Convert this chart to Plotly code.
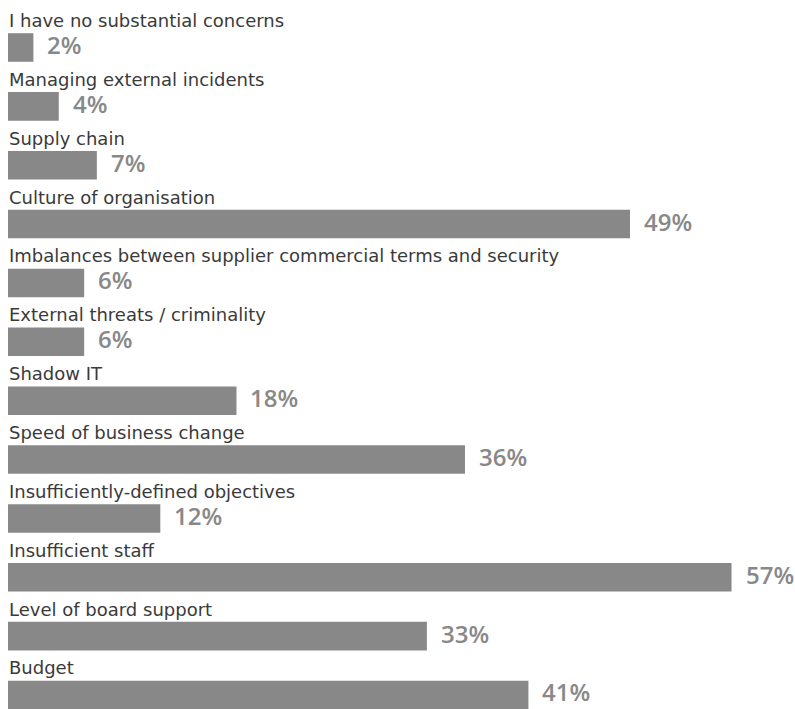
import plotly.graph_objects as go

categories = [
    "I have no substantial concerns",
    "Managing external incidents",
    "Supply chain",
    "Culture of organisation",
    "Imbalances between supplier commercial terms and security",
    "External threats / criminality",
    "Shadow IT",
    "Speed of business change",
    "Insufficiently-defined objectives",
    "Insufficient staff",
    "Level of board support",
    "Budget",
]
values = [2, 4, 7, 49, 6, 6, 18, 36, 12, 57, 33, 41]

positions = list(range(len(categories)))
bar_color = "#888888"

fig = go.Figure(
    go.Bar(
        x=values,
        y=positions,
        orientation="h",
        marker=dict(color=bar_color, line=dict(width=0)),
        width=0.485,
        hoverinfo="skip",
    )
)

annotations = []
for pos, cat, val in zip(positions, categories, values):
    # category caption above the bar
    annotations.append(dict(
        x=0, y=pos, xref="x", yref="y",
        text=cat, showarrow=False,
        xanchor="left", yanchor="middle",
        xshift=-1, yshift=27,
        font=dict(family="DejaVu Sans", size=18, color="#3a3a3a"),
    ))
    # percentage to the right of the bar
    annotations.append(dict(
        x=val, y=pos, xref="x", yref="y",
        text=f"{val}%", showarrow=False,
        xanchor="left", yanchor="middle",
        xshift=12, yshift=3,
        font=dict(family="Open Sans", size=24, color="#888888", weight=600),
    ))

fig.update_layout(
    width=795, height=709,
    margin=dict(l=8, r=0, t=0, b=0),
    paper_bgcolor="white", plot_bgcolor="white",
    showlegend=False,
    annotations=annotations,
    xaxis=dict(range=[0, 62.0], visible=False, fixedrange=True),
    yaxis=dict(range=[11.238, -0.807], visible=False, fixedrange=True),
)

fig.write_html("out.html")
